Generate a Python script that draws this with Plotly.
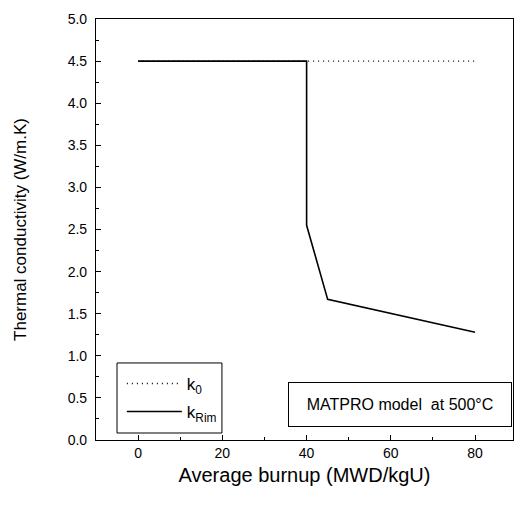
import plotly.graph_objects as go

# Data
burnup_k0 = [0, 80]
k0_values = [4.5, 4.5]

burnup_rim = [0, 40, 40, 45, 80]
krim_values = [4.5, 4.5, 2.55, 1.67, 1.28]

x_ticks = [0, 20, 40, 60, 80]
y_ticks = [0.0, 0.5, 1.0, 1.5, 2.0, 2.5, 3.0, 3.5, 4.0, 4.5, 5.0]
y_tick_labels = ["0.0", "0.5", "1.0", "1.5", "2.0", "2.5", "3.0", "3.5", "4.0", "4.5", "5.0"]

FONT = "Liberation Sans, Arial, sans-serif"

fig = go.Figure()
fig.add_trace(go.Scatter(
    x=burnup_k0, y=k0_values, mode="lines", name="k<sub>0</sub>",
    legendgroup="a",
    line=dict(color="black", width=1.4, dash="1px,4px"),
))
fig.add_trace(go.Scatter(
    x=burnup_rim, y=krim_values, mode="lines", name="k<sub>Rim</sub>",
    legendgroup="b",
    line=dict(color="black", width=1.6),
))

# legend frame
fig.add_shape(type="rect", xref="paper", yref="paper",
              x0=0.0504, x1=0.302, y0=0.0166, y1=0.183,
              line=dict(color="black", width=1), fillcolor="rgba(0,0,0,0)", layer="above")

fig.add_annotation(
    x=62.1, y=0.42, xref="x", yref="y",
    text="MATPRO model  at 500°C", showarrow=False,
    font=dict(family=FONT, size=16, color="black"),
    bordercolor="black", borderwidth=1, width=220, height=41,
    bgcolor="white", align="center",
)

fig.update_layout(
    width=514, height=514,
    margin=dict(l=96, r=1, t=19, b=74),
    paper_bgcolor="white", plot_bgcolor="white",
    font=dict(family=FONT, size=14, color="black"),
    showlegend=True,
    legend=dict(
        x=0.062, y=0.024, xanchor="left", yanchor="bottom",
        borderwidth=0, bgcolor="rgba(0,0,0,0)",
        font=dict(family=FONT, size=17, color="black"),
        itemwidth=55, tracegroupgap=3,
    ),
    xaxis=dict(
        range=[-10, 89], tickvals=x_ticks,
        ticks="inside", ticklen=5, tickwidth=1, tickcolor="black",
        minor=dict(dtick=10, ticks="inside", ticklen=3, tickcolor="black"),
        showline=True, linecolor="black", linewidth=1.2, mirror=True,
        showgrid=False, zeroline=False,
        title=dict(text="Average burnup (MWD/kgU)", font=dict(family=FONT, size=20), standoff=8),
        tickfont=dict(family=FONT, size=14),
    ),
    yaxis=dict(
        range=[0, 5], tickvals=y_ticks, ticktext=y_tick_labels,
        ticks="inside", ticklen=5, tickwidth=1, tickcolor="black",
        minor=dict(dtick=0.25, ticks="inside", ticklen=3, tickcolor="black"),
        showline=True, linecolor="black", linewidth=1.2, mirror=True,
        showgrid=False, zeroline=False,
        ticklabelstandoff=5,
        title=dict(text="Thermal conductivity (W/m.K)", font=dict(family=FONT, size=17), standoff=36),
        tickfont=dict(family=FONT, size=14),
    ),
)

fig.write_html("out.html", config={"displayModeBar": False},
               post_script="document.body.style.margin='0';document.body.style.padding='0';")
